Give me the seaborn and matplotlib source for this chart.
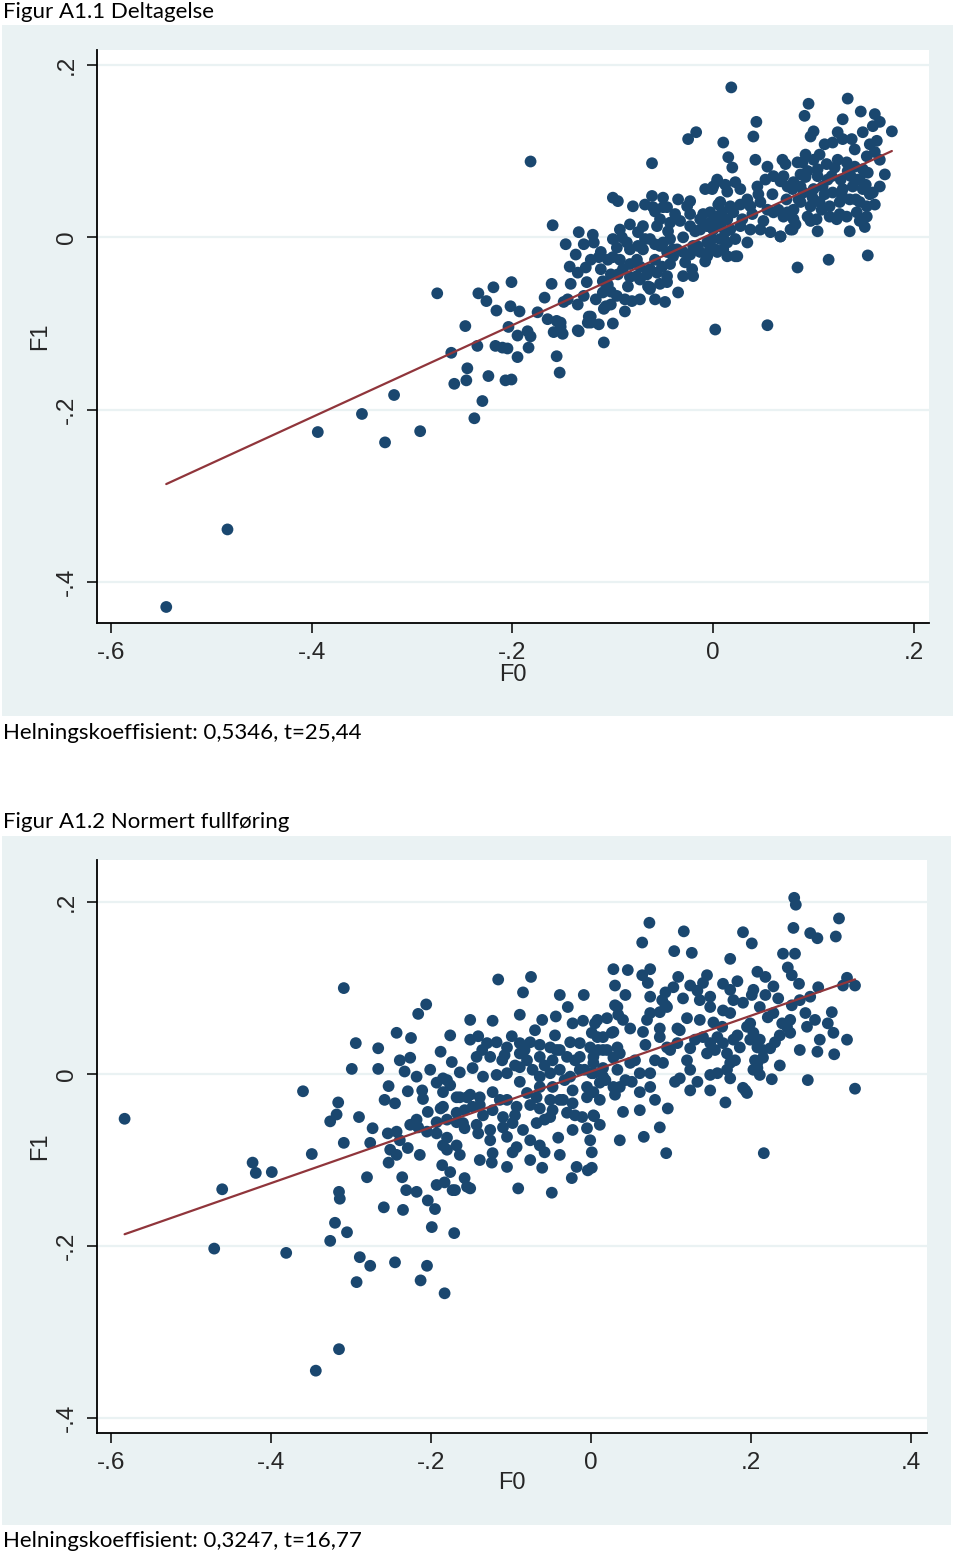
import pandas as pd
import matplotlib
matplotlib.use('Agg')
import matplotlib.pyplot as plt
from matplotlib.patches import Rectangle
import seaborn as sns

######## DATA #####################################
# Figur A1.1 Deltagelse
f0_deltagelse = [
    -0.545, -0.484, -0.394, -0.350, -0.327, -0.318, -0.292, -0.275, -0.247, -0.261, -0.245, -0.246,
    -0.258, -0.235, -0.234, -0.226, -0.219, -0.216, -0.201, -0.202, -0.193, -0.204, -0.217, -0.210,
    -0.205, -0.195, -0.185, -0.182, -0.184, -0.195, -0.224, -0.207, -0.201, -0.230, -0.238, -0.175,
    -0.168, -0.161, -0.165, -0.156, -0.152, -0.150, -0.156, -0.153, -0.149, -0.145, -0.135, -0.135,
    -0.143, -0.135, -0.127, -0.126, -0.129, -0.124, -0.125, -0.114, -0.109, -0.100, -0.109, -0.182,
    -0.160, -0.061, 0.015, 0.019, 0.022, 0.000, 0.004, -0.100, -0.095, -0.080, -0.061, -0.050,
    -0.046, -0.058, -0.053, -0.056, -0.023, -0.026, -0.033, -0.070, -0.075, -0.134, -0.120, -0.129,
    -0.119, -0.100, -0.091, -0.086, -0.096, -0.083, -0.075, -0.070, -0.112, -0.114, -0.105, -0.100,
    -0.110, -0.105, -0.110, -0.102, -0.095, -0.090, -0.083, -0.085, -0.096, -0.088, -0.081, -0.107,
    -0.102, -0.076, -0.073, -0.076, -0.066, -0.065, -0.050, -0.043, -0.046, -0.040, -0.036, -0.058,
    -0.051, -0.056, -0.046, -0.063, -0.046, -0.035, -0.048, -0.028, -0.021, -0.030, -0.020, -0.016,
    -0.006, -0.013, -0.003, -0.010, -0.003, 0.004, 0.009, 0.014, -0.006, 0.000, 0.007, 0.012,
    0.017, 0.007, 0.014, 0.022, 0.010, 0.022, 0.002, -0.006, -0.152, -0.159, -0.152, -0.134,
    -0.122, -0.122, 0.002, 0.018, 0.043, 0.040, -0.025, -0.017, 0.010, 0.042, 0.054, 0.069,
    0.084, 0.004, -0.001, 0.014, 0.044, 0.052, 0.060, 0.067, 0.074, -0.060, -0.050, 0.007,
    0.017, 0.027, 0.037, 0.047, 0.054, 0.060, 0.070, 0.080, -0.063, -0.043, -0.023, -0.013,
    -0.003, 0.027, 0.037, 0.047, 0.057, 0.067, 0.077, -0.053, -0.040, -0.030, -0.020, 0.004,
    0.014, 0.024, 0.034, -0.063, 0.054, 0.084, 0.095, 0.091, 0.134, 0.147, 0.129, 0.166,
    0.159, 0.149, 0.178, 0.163, 0.100, 0.097, 0.124, 0.129, 0.119, 0.141, 0.153, 0.161,
    0.106, 0.100, 0.113, 0.089, 0.124, 0.133, 0.141, 0.149, 0.094, 0.104, 0.087, 0.080,
    0.118, 0.127, 0.137, 0.146, 0.154, 0.166, 0.159, 0.149, 0.139, 0.129, 0.119, 0.109,
    0.100, 0.090, 0.087, 0.097, 0.106, 0.116, 0.126, 0.136, 0.146, 0.153, 0.074, 0.080,
    0.094, 0.103, 0.116, 0.123, 0.133, 0.143, 0.153, 0.079, 0.104, 0.136, 0.151, 0.067,
    0.070, 0.115, 0.154,
    # dense core
    -0.068, -0.058, -0.045, -0.038, -0.030, -0.023, -0.018, -0.013, -0.008, -0.001, 0.005, 0.012,
    0.020, 0.029, 0.034, 0.039, 0.045, 0.050, 0.059, 0.065, 0.073, 0.079, 0.085, 0.092,
    0.099, 0.104, 0.111, 0.114, 0.121, 0.128, 0.134, 0.142, 0.144, 0.156, 0.161, 0.152,
    0.108, 0.126, 0.146, 0.097, 0.082, 0.087, 0.072, 0.092, 0.111, 0.138, 0.156, 0.166,
    0.171, 0.161, -0.112, -0.102, -0.093, -0.083, -0.073, -0.063, -0.053, -0.043, -0.058, -0.073,
    -0.088, -0.117, -0.122, -0.142, -0.137, -0.147, -0.093, -0.083, -0.068, -0.023, -0.035, -0.008,
    0.012, 0.027,
]
f1_deltagelse = [
    -0.429, -0.339, -0.226, -0.205, -0.238, -0.183, -0.225, -0.065, -0.103, -0.134, -0.152, -0.166,
    -0.170, -0.126, -0.065, -0.074, -0.058, -0.085, -0.052, -0.080, -0.086, -0.104, -0.126, -0.128,
    -0.129, -0.114, -0.109, -0.115, -0.128, -0.139, -0.161, -0.166, -0.165, -0.190, -0.210, -0.087,
    -0.070, -0.054, -0.095, -0.097, -0.104, -0.112, -0.138, -0.157, -0.075, -0.072, -0.078, -0.108,
    -0.034, -0.041, -0.035, -0.052, -0.068, -0.092, -0.099, -0.101, -0.122, -0.100, -0.083, 0.088,
    0.014, 0.086, 0.093, 0.081, 0.064, 0.059, 0.065, 0.046, 0.042, 0.036, 0.048, 0.046,
    0.035, 0.030, 0.021, 0.013, 0.042, 0.036, 0.019, 0.013, 0.006, 0.006, 0.003, -0.008,
    -0.006, -0.002, 0.000, -0.006, -0.012, -0.014, -0.010, -0.014, -0.017, -0.023, -0.026, -0.023,
    -0.051, -0.055, -0.064, -0.063, -0.043, -0.037, -0.046, -0.057, -0.068, -0.072, -0.074, -0.080,
    -0.078, -0.026, -0.034, -0.045, -0.043, -0.057, -0.006, -0.002, -0.017, -0.022, -0.014, -0.026,
    -0.034, -0.041, -0.045, -0.058, -0.052, -0.064, -0.075, -0.029, -0.037, -0.045, -0.045, -0.010,
    -0.006, -0.017, -0.014, 0.027, 0.029, 0.024, 0.030, 0.021, 0.013, 0.009, 0.013, 0.006,
    0.009, -0.002, -0.006, -0.002, -0.014, -0.022, -0.014, -0.022, -0.099, -0.110, -0.109, -0.109,
    -0.092, -0.099, -0.107, 0.174, 0.134, 0.117, 0.114, 0.122, 0.110, 0.090, 0.082, 0.090,
    0.087, 0.067, 0.056, 0.053, 0.059, 0.067, 0.071, 0.065, 0.059, 0.035, 0.035, 0.041,
    0.036, 0.038, 0.036, 0.041, 0.032, 0.029, 0.024, 0.032, -0.002, 0.017, 0.013, 0.009,
    0.017, 0.013, 0.009, 0.009, 0.006, 0.001, 0.009, -0.010, -0.014, -0.017, -0.010, -0.017,
    -0.022, -0.022, -0.006, -0.060, -0.102, -0.035, 0.155, 0.141, 0.161, 0.146, 0.137, 0.134,
    0.129, 0.122, 0.123, 0.112, 0.123, 0.117, 0.122, 0.114, 0.110, 0.102, 0.094, 0.099,
    0.096, 0.090, 0.085, 0.087, 0.090, 0.087, 0.082, 0.079, 0.077, 0.071, 0.059, 0.064,
    0.071, 0.067, 0.071, 0.067, 0.075, 0.059, 0.052, 0.056, 0.059, 0.056, 0.052, 0.059,
    0.056, 0.052, 0.041, 0.036, 0.041, 0.036, 0.041, 0.044, 0.041, 0.036, 0.029, 0.021,
    0.024, 0.021, 0.024, 0.021, 0.024, 0.029, 0.024, 0.009, 0.007, 0.007, 0.012, 0.001,
    0.071, -0.026, -0.021,
    # dense core
    0.038, -0.008, 0.007, 0.027, 0.000, -0.020, 0.007, 0.021, -0.028, -0.002, 0.038, 0.021,
    0.029, 0.021, 0.044, 0.027, 0.050, 0.019, 0.050, 0.032, 0.044, 0.056, 0.044, 0.070,
    0.046, 0.079, 0.050, 0.067, 0.081, 0.050, 0.077, 0.044, 0.067, 0.050, 0.038, 0.061,
    0.032, 0.027, 0.019, 0.019, 0.015, 0.073, 0.085, 0.096, 0.108, 0.114, 0.108, 0.090,
    0.073, 0.143, -0.037, -0.043, -0.026, -0.031, -0.049, -0.037, -0.054, -0.031, -0.072, -0.072,
    -0.086, -0.072, -0.026, -0.054, -0.020, -0.008, 0.009, 0.015, -0.002, 0.027, 0.044, 0.056,
    0.061, 0.056,
]

# Figur A1.2 Normert fullføring
f0_fullforing = [
    -0.583, -0.471, -0.461, -0.423, -0.419, -0.399, -0.381, -0.360, -0.349, -0.344, -0.315, -0.309,
    -0.294, -0.299, -0.316, -0.318, -0.326, -0.290, -0.309, -0.315, -0.314, -0.320, -0.305, -0.326, -0.289, -0.293,
    -0.206, -0.216, -0.243, -0.225, -0.266, -0.188, -0.174, -0.164, -0.226, -0.266, -0.233, -0.218,
    -0.253, -0.229, -0.211, -0.210, -0.245, -0.193, -0.180, -0.185, -0.168, -0.155, -0.204, -0.188,
    -0.218, -0.216, -0.205, -0.193, -0.180, -0.168, -0.160, -0.273, -0.276, -0.254, -0.243, -0.251,
    -0.243, -0.239, -0.229, -0.214, -0.193, -0.185, -0.180, -0.168, -0.253, -0.186, -0.176, -0.280,
    -0.236, -0.193, -0.183, -0.173, -0.155, -0.231, -0.218, -0.204, -0.195, -0.259, -0.235, -0.199,
    -0.171, -0.276, -0.245, -0.205, -0.213, -0.183,
    -0.116, -0.075, -0.085, 0.028, -0.009, -0.029, -0.044, -0.061, -0.123, -0.023, -0.010, 0.008,
    0.020, 0.033, -0.070, -0.045, -0.099, -0.141,
    -0.130, -0.118, -0.105, -0.089, -0.076, -0.064, -0.051, -0.039, -0.026, -0.014, 0.001, 0.015, 0.028,
    -0.143, -0.126, -0.111, -0.089, -0.080, -0.064, -0.048, -0.030, -0.014, 0.003, 0.020, 0.033,
    -0.148, -0.135, -0.118, -0.105,
    -0.089, -0.073, -0.064, -0.051, -0.039, -0.026, -0.014, 0.003, 0.015, 0.033,
    -0.185, -0.089, -0.048, -0.064, -0.023, -0.005, 0.011, 0.028,
    -0.164, -0.151, -0.139, -0.123, -0.105, -0.080, -0.068, -0.051, -0.035, -0.023, -0.005, 0.011,
    -0.185, -0.168, -0.148, -0.135, -0.123, -0.110, -0.093, -0.064, -0.048, -0.030,
    -0.158, -0.143, -0.126, -0.110, -0.098, -0.085, -0.068, -0.051, -0.011, 0.003,
    -0.180, -0.141, -0.126, -0.105, -0.093, -0.076, -0.064, -0.041, -0.023, -0.005, -0.001,
    -0.123, -0.098, -0.058, 0.001,
    -0.124, -0.105, -0.061, -0.018, -0.004,
    -0.158, -0.151, -0.170, -0.091, -0.049, -0.024,
    0.073, 0.116, 0.064, 0.190, 0.201, 0.104, 0.126, 0.174, 0.046, 0.064, 0.074, 0.071,
    0.109, 0.103, 0.093, 0.145, 0.140, 0.133, 0.165, 0.183, 0.203, 0.208, 0.074, 0.089,
    0.095, 0.115, 0.149, 0.149, 0.165, 0.178, 0.190, 0.030, 0.034, 0.005, 0.040, 0.049,
    0.074, 0.070, 0.086, 0.093, 0.065, 0.086, 0.108, 0.120, 0.153, 0.164, 0.174, 0.183,
    0.195, 0.203, 0.026, 0.008, -0.001, 0.015, 0.036, 0.028, 0.086, 0.095, 0.108, 0.124,
    0.140, 0.149, 0.158, 0.165, 0.178, 0.186, 0.199, 0.208, 0.003, 0.015, 0.049, 0.061,
    0.074, 0.090, 0.120, 0.124, 0.145, 0.170, 0.174, 0.208, 0.001, 0.036, 0.051, 0.061,
    0.074, 0.105, 0.111, 0.133, 0.149, 0.158, 0.170, 0.174, 0.190, 0.203, 0.003, 0.080,
    0.096, 0.040, 0.168, 0.195, 0.004, 0.086, 0.066, 0.094, 0.001, 0.216,
    0.254, 0.256, 0.310, 0.306, 0.253, 0.274, 0.283, 0.240, 0.255, 0.246, 0.251, 0.218,
    0.228, 0.260, 0.284, 0.274, 0.320, 0.330, 0.315, 0.201, 0.211, 0.234, 0.251, 0.221,
    0.228, 0.239, 0.249, 0.249, 0.245, 0.268, 0.280, 0.270, 0.301, 0.296, 0.303, 0.320,
    0.283, 0.304, 0.199, 0.211, 0.230, 0.215, 0.224, 0.205, 0.215, 0.208, 0.226, 0.271,
    0.330, 0.193,
    # dense core
    -0.151, -0.136, -0.108, -0.095, -0.083, -0.058, -0.043, -0.033, -0.020, -0.008, 0.009, 0.018,
    0.030, 0.043, 0.055, 0.068, 0.080, 0.099, 0.111, 0.130, 0.136, 0.155, 0.180, -0.139,
    -0.114, -0.095, -0.076, -0.058, -0.039, -0.020, -0.176, -0.158, -0.201, -0.239, -0.258, -0.226,
    -0.164, -0.139, -0.076, -0.039, 0.011, 0.036, 0.061, 0.124, 0.149, 0.211, 0.236, 0.261,
    0.286, 0.236, 0.261, 0.218, 0.174, 0.136, 0.124, 0.043, 0.030, -0.039, -0.089, -0.151,
    -0.176,
]
f1_fullforing = [
    -0.052, -0.203, -0.134, -0.103, -0.115, -0.114, -0.208, -0.020, -0.093, -0.345, -0.320, 0.100,
    0.036, 0.006, -0.033, -0.047, -0.055, -0.050, -0.080, -0.137, -0.145, -0.173, -0.184, -0.194, -0.213, -0.242,
    0.081, 0.070, 0.048, 0.042, 0.030, 0.026, 0.014, 0.002, 0.019, 0.006, 0.003, -0.003,
    -0.014, -0.020, -0.019, -0.029, -0.034, -0.010, -0.007, -0.021, -0.027, -0.027, -0.044, -0.040,
    -0.053, -0.062, -0.067, -0.056, -0.053, -0.056, -0.057, -0.063, -0.080, -0.069, -0.067, -0.088,
    -0.094, -0.077, -0.086, -0.094, -0.069, -0.083, -0.088, -0.083, -0.103, -0.106, -0.114, -0.120,
    -0.120, -0.129, -0.126, -0.135, -0.131, -0.135, -0.137, -0.147, -0.157, -0.155, -0.158, -0.178,
    -0.185, -0.223, -0.219, -0.223, -0.240, -0.255,
    0.110, 0.113, 0.095, 0.122, 0.092, 0.078, 0.067, 0.063, 0.062, 0.059, 0.062, 0.063,
    0.065, 0.078, 0.051, 0.045, 0.044, 0.044,
    0.036, 0.037, 0.031, 0.036, 0.037, 0.034, 0.031, 0.028, 0.037, 0.036, 0.048, 0.043, 0.049,
    0.020, 0.020, 0.016, 0.024, 0.016, 0.020, 0.016, 0.020, 0.020, 0.020, 0.028, 0.031,
    0.007, -0.003, -0.001, 0.001,
    0.008, 0.005, -0.003, 0.001, 0.005, -0.003, 0.005, 0.001, -0.003, 0.005,
    -0.005, -0.009, -0.015, -0.015, -0.019, -0.015, -0.010, -0.015,
    -0.027, -0.024, -0.027, -0.021, -0.030, -0.022, -0.027, -0.030, -0.030, -0.034, -0.027, -0.030,
    -0.038, -0.045, -0.038, -0.048, -0.042, -0.050, -0.038, -0.040, -0.042, -0.045,
    -0.063, -0.059, -0.065, -0.062, -0.057, -0.065, -0.057, -0.050, -0.050, -0.048,
    -0.074, -0.069, -0.077, -0.073, -0.085, -0.077, -0.083, -0.074, -0.065, -0.063, -0.077,
    -0.092, -0.091, -0.091, -0.091,
    -0.103, -0.108, -0.109, -0.108, -0.112,
    -0.121, -0.133, -0.135, -0.133, -0.138, -0.121,
    0.176, 0.166, 0.153, 0.165, 0.152, 0.143, 0.141, 0.134, 0.121, 0.115, 0.122, 0.106,
    0.113, 0.101, 0.095, 0.115, 0.106, 0.097, 0.105, 0.108, 0.098, 0.119, 0.090, 0.086,
    0.078, 0.088, 0.090, 0.078, 0.074, 0.086, 0.083, 0.080, 0.069, 0.059, 0.063, 0.053,
    0.071, 0.063, 0.072, 0.080, 0.049, 0.053, 0.053, 0.065, 0.060, 0.055, 0.071, 0.045,
    0.055, 0.048, 0.048, 0.043, 0.031, 0.028, 0.024, 0.019, 0.043, 0.031, 0.036, 0.030,
    0.043, 0.036, 0.043, 0.036, 0.040, 0.031, 0.040, 0.031, 0.013, 0.007, 0.013, 0.001,
    0.001, 0.013, 0.016, 0.005, 0.024, 0.024, 0.013, 0.013, 0.001, -0.015, -0.009, -0.021,
    -0.015, -0.009, -0.005, -0.009, -0.001, 0.001, 0.005, -0.005, -0.016, 0.005, -0.021, -0.030,
    -0.040, -0.044, -0.033, -0.022, -0.049, -0.062, -0.073, -0.092, -0.109, -0.092,
    0.205, 0.197, 0.181, 0.160, 0.170, 0.164, 0.158, 0.140, 0.140, 0.124, 0.115, 0.113,
    0.102, 0.105, 0.101, 0.090, 0.112, 0.103, 0.103, 0.092, 0.078, 0.088, 0.080, 0.066,
    0.071, 0.059, 0.063, 0.048, 0.055, 0.071, 0.063, 0.055, 0.072, 0.059, 0.048, 0.040,
    0.026, 0.023, 0.059, 0.040, 0.037, 0.028, 0.030, 0.016, 0.019, 0.007, -0.006, -0.007,
    -0.017, -0.019,
    # dense core
    0.040, 0.028, 0.022, 0.010, 0.028, 0.010, 0.028, -0.007, 0.016, 0.005, 0.028, -0.007,
    -0.024, -0.007, 0.016, 0.034, 0.016, 0.028, 0.051, 0.040, 0.063, 0.028, 0.016, -0.036,
    -0.030, -0.048, -0.036, -0.053, -0.030, -0.048, -0.013, -0.042, 0.005, 0.016, -0.030, -0.059,
    -0.094, -0.100, -0.100, -0.094, -0.059, -0.077, -0.042, -0.019, -0.019, -0.001, 0.010, 0.028,
    0.040, 0.045, 0.086, 0.092, 0.098, 0.086, 0.103, 0.092, 0.103, 0.092, 0.069, 0.063,
    0.045,
]

# fitted lines (slope from the captions, intercept)
slope_deltagelse = 0.5346
intercept_deltagelse = 0.005
slope_fullforing = 0.3247
intercept_fullforing = 0.003

yticks = [-0.4, -0.2, 0, 0.2]
yticklabels = ['-.4', '-.2', '0', '.2']
xticks_deltagelse = [-0.6, -0.4, -0.2, 0, 0.2]
xticklabels_deltagelse = ['-.6', '-.4', '-.2', '0', '.2']
xticks_fullforing = [-0.6, -0.4, -0.2, 0, 0.2, 0.4]
xticklabels_fullforing = ['-.6', '-.4', '-.2', '0', '.2', '.4']
###########################################

# stata s2color look
BG = '#EAF2F3'
NAVY = '#1A476F'
MAROON = '#90353B'

sns.set_style('white')
plt.rcParams['font.family'] = ['Liberation Sans', 'DejaVu Sans']

W, H = 960, 1555
fig = plt.figure(figsize=(W / 100, H / 100), dpi=100)
fig.patch.set_facecolor('white')


def px_box(x0, y0, x1, y1):
    # pixel box (top-left origin) -> figure fraction [left, bottom, width, height]
    return [x0 / W, 1 - y1 / H, (x1 - x0) / W, (y1 - y0) / H]


def draw_panel(ax, f0, f1, slope, intercept, xticks, xticklabels, xlim, ylim):
    df = pd.DataFrame({'F0': f0, 'F1': f1})
    sns.scatterplot(data=df, x='F0', y='F1', ax=ax, s=72, color=NAVY,
                    edgecolor='none', linewidth=0, zorder=3)

    # fitted line over the range of F0
    fit = pd.DataFrame({'F0': [df['F0'].min(), df['F0'].max()]})
    fit['F1'] = intercept + slope * fit['F0']
    sns.lineplot(data=fit, x='F0', y='F1', ax=ax, color=MAROON, linewidth=1.6, zorder=4)

    ax.set_facecolor('white')
    ax.set_xlim(xlim)
    ax.set_ylim(ylim)
    ax.set_xticks(xticks, xticklabels)
    ax.set_yticks(yticks, yticklabels)
    ax.set_axisbelow(True)
    ax.yaxis.grid(True, color=BG, linewidth=1.6)
    ax.xaxis.grid(False)
    for side in ['top', 'right']:
        ax.spines[side].set_visible(False)
    for side in ['left', 'bottom']:
        ax.spines[side].set_color('black')
        ax.spines[side].set_linewidth(1.3)
    ax.tick_params(axis='both', direction='out', length=7, width=1.1, color='black',
                   labelsize=17.5, pad=7, left=True, bottom=True)
    ax.tick_params(axis='y', labelrotation=90)
    for lab in ax.get_yticklabels():
        lab.set_va('center')

    ax.set_xlabel('F0', fontsize=17)
    ax.set_ylabel('F1', fontsize=17)
    ax.xaxis.label.set_va('center')
    ax.yaxis.label.set_va('center')
    return ax


# panel backgrounds (behind the axes)
fig.patches.append(Rectangle((2 / W, 1 - 716 / H), 951 / W, 691 / H, transform=fig.transFigure,
                             facecolor=BG, edgecolor='none', zorder=-10))
fig.patches.append(Rectangle((2 / W, 1 - 1525 / H), 949 / W, 689 / H, transform=fig.transFigure,
                             facecolor=BG, edgecolor='none', zorder=-10))

ax1 = fig.add_axes(px_box(97, 50, 929, 623))
draw_panel(ax1, f0_deltagelse, f1_deltagelse, slope_deltagelse, intercept_deltagelse,
           xticks_deltagelse, xticklabels_deltagelse, (-0.614, 0.215), (-0.4476, 0.2174))
ax1.xaxis.set_label_coords(0.5, -(675 - 623) / 573)
ax1.yaxis.set_label_coords(-(97 - 40) / 832, 0.5)

ax2 = fig.add_axes(px_box(97, 860, 927, 1433))
draw_panel(ax2, f0_fullforing, f1_fullforing, slope_fullforing, intercept_fullforing,
           xticks_fullforing, xticklabels_fullforing, (-0.6175, 0.42), (-0.4175, 0.249))
ax2.xaxis.set_label_coords(0.5, -(1483 - 1433) / 573)
ax2.yaxis.set_label_coords(-(97 - 40) / 830, 0.5)

# captions
cap = dict(fontsize=16, family=['Lato', 'DejaVu Sans'], ha='left', va='center', color='black')
fig.text(3 / W, 1 - 12 / H, 'Figur A1.1 Deltagelse', **cap)
fig.text(3 / W, 1 - 733 / H, 'Helningskoeffisient: 0,5346, t=25,44', **cap)
fig.text(3 / W, 1 - 822 / H, 'Figur A1.2 Normert fullføring', **cap)
fig.text(3 / W, 1 - 1541 / H, 'Helningskoeffisient: 0,3247, t=16,77', **cap)

fig.savefig('out.png', dpi=100, facecolor='white')
print("All done.")
